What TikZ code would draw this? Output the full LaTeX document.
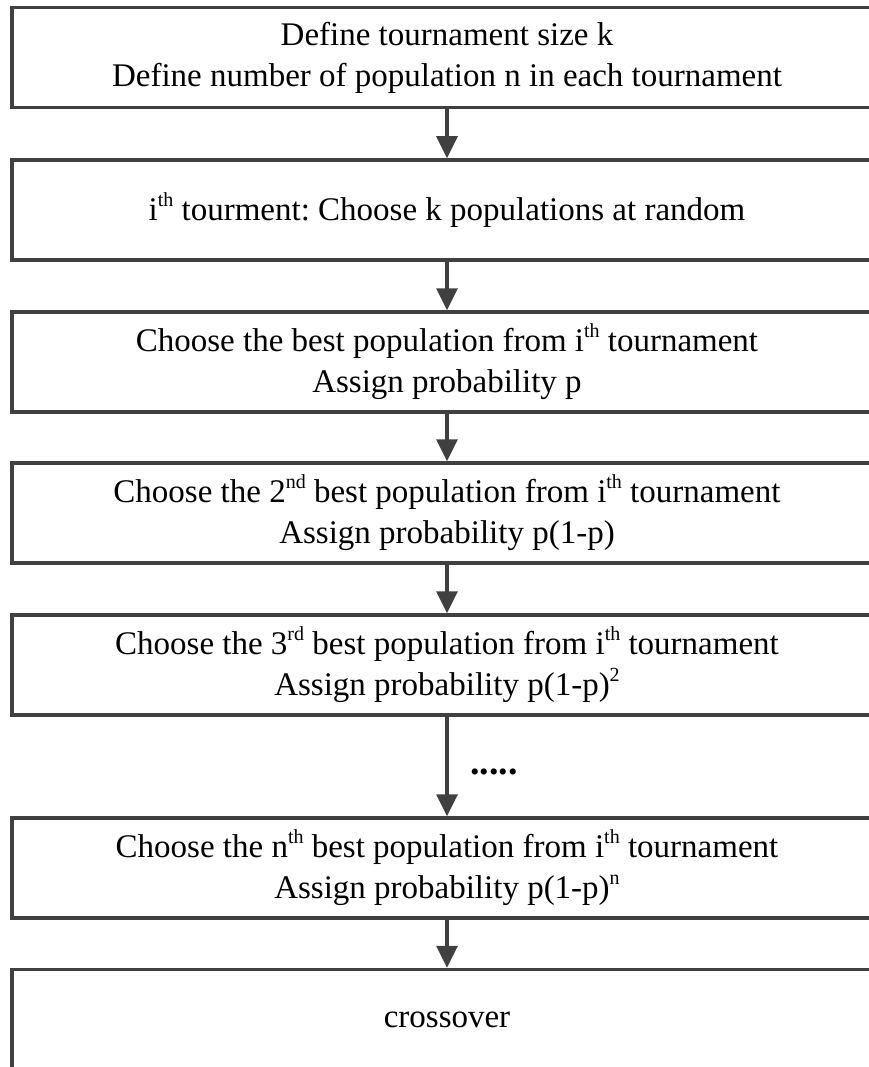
\documentclass[tikz,border=0pt]{standalone}
\usepackage{fontspec}
\setmainfont{Liberation Serif}
\usepackage{xcolor}
\definecolor{grisLinea}{RGB}{64,64,64}
\usepackage{tikz}
\usetikzlibrary{arrows.meta, positioning}

\frenchspacing
\newcommand{\supr}[1]{\raisebox{14pt}{\fontsize{20}{20}\selectfont #1}}

\begin{document}
\begin{tikzpicture}[
  x=1pt, y=-1pt,
  paso/.style={rectangle, draw=grisLinea, line width=3.5pt, fill=white,
               minimum width=870pt, minimum height=100pt, align=center,
               font=\fontsize{33}{41}\selectfont},
  arr/.style={-{Triangle[width=21pt,length=22pt]}, line width=3.5pt, color=grisLinea}
]
  \clip (0,0) rectangle (869,1067);

  % Pasos (columna central)
  \node[paso] (t01) at (447,57.5) {Define tournament size k\\Define number of population n in each tournament};
  \node[paso] (t02) at (447,210) {i\supr{th} tourment: Choose k populations at random};
  \node[paso] (t03) at (447,362) {Choose the best population from i\supr{th} tournament\\Assign probability p};
  \node[paso] (t04) at (447,513) {Choose the 2\supr{nd} best population from i\supr{th} tournament\\Assign probability p(1-p)};
  \node[paso] (t05) at (447,665) {Choose the 3\supr{rd} best population from i\supr{th} tournament\\Assign probability p(1-p)\supr{2}};
  \node[paso] (t06) at (447,868) {Choose the n\supr{th} best population from i\supr{th} tournament\\Assign probability p(1-p)\supr{n}};
  \node[paso] (t07) at (447,1019.5) {crossover};

  \draw[arr] (t01) -- (t02);
  \draw[arr] (t02) -- (t03);
  \draw[arr] (t03) -- (t04);
  \draw[arr] (t04) -- (t05);
  \draw[arr] (t05) -- node[pos=0.55, right=18pt, font=\fontsize{38}{40}\selectfont\bfseries, text=black] {.....} (t06);
  \draw[arr] (t06) -- (t07);
\end{tikzpicture}
\end{document}
